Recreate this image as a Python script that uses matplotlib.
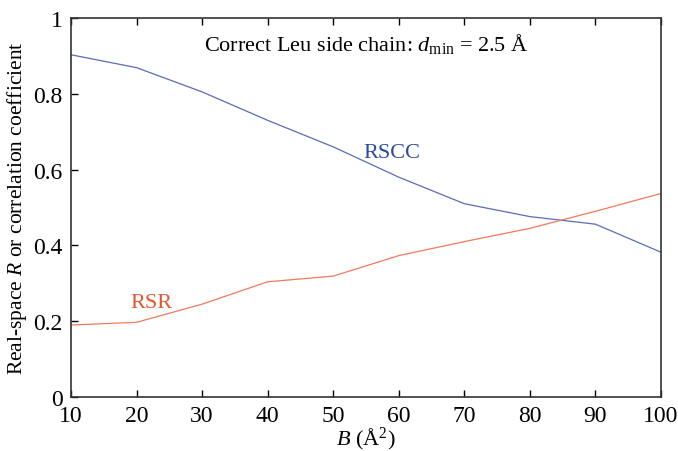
import numpy as np
import matplotlib.pyplot as plt

# datos
b_vals = [10, 20, 30, 40, 50, 60, 70, 80, 90, 100]
rscc = [0.903, 0.869, 0.805, 0.730, 0.660, 0.580, 0.510, 0.476, 0.456, 0.382]
rsr = [0.190, 0.197, 0.245, 0.304, 0.319, 0.373, 0.410, 0.445, 0.490, 0.537]

plt.rcParams['font.family'] = ['Liberation Serif', 'DejaVu Serif']
plt.rcParams['mathtext.fontset'] = 'custom'
plt.rcParams['mathtext.it'] = 'Liberation Serif:italic'
plt.rcParams['mathtext.rm'] = 'Liberation Serif'

fig = plt.figure(figsize=(6.78, 4.52), dpi=100)
ax = fig.add_axes([71 / 678, 54 / 452, 590 / 678, 379 / 452])

ax.plot(b_vals, rscc, color="#5b6bb8", linewidth=0.9)
ax.plot(b_vals, rsr, color="#f07a5c", linewidth=0.9)

ax.set_xlim(10, 100)
ax.set_ylim(0, 1)
ax.set_xticks(np.arange(10, 101, 10))
ax.set_yticks([0, 0.2, 0.4, 0.6, 0.8, 1])
ax.set_yticklabels(["0", "0.2", "0.4", "0.6", "0.8", "1"])
ax.tick_params(direction="in", top=True, right=False, labelsize=17, length=5, width=1)
ax.tick_params(axis="x", pad=6)
ax.tick_params(axis="y", pad=6)

for s in ax.spines.values():
    s.set_color("#333333")
    s.set_linewidth(1.2)

ax.set_xlabel(r"$B$ (Å$^2$)", fontsize=16, labelpad=-1)
ax.set_ylabel(r"Real-space $R$ or correlation coefficient", fontsize=15.5, labelpad=3)

ax.text(0.5, 0.935, r"Correct Leu side chain: $d_{\rm min}$ = 2.5 Å", transform=ax.transAxes,
        ha="center", va="center", fontsize=16)
ax.text(59, 0.645, "RSCC", color="#2b4a9c", fontsize=16, ha="center", va="center")
ax.text(22.2, 0.25, "RSR", color="#e4572e", fontsize=16, ha="center", va="center")

fig.savefig("out.png", dpi=100)
